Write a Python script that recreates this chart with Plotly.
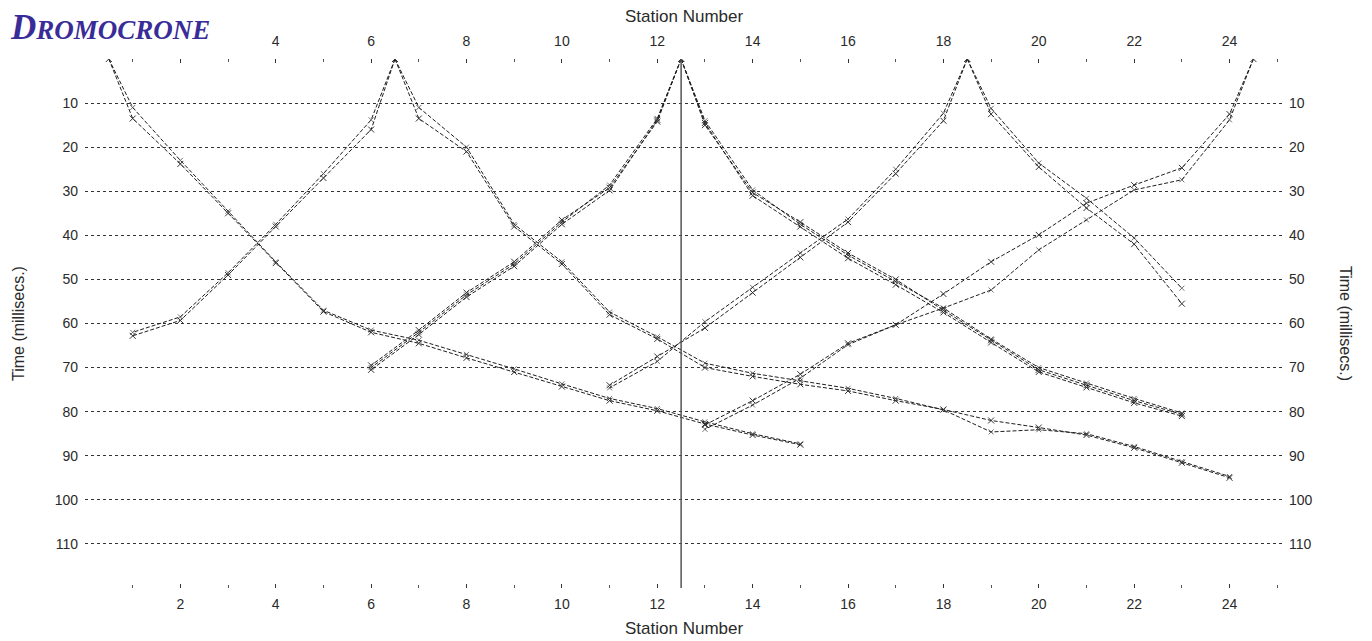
import plotly.graph_objects as go

# ---- data --------------------------------------------------------------
# shot positions (station number)
shots = [0.5, 6.5, 12.5, 18.5, 24.5]

station_ticks = [2, 4, 6, 8, 10, 12, 14, 16, 18, 20, 22, 24]
time_ticks = [10, 20, 30, 40, 50, 60, 70, 80, 90, 100, 110]

# shot 0.5 (right branch)
s1_right_x = [0.5, 1, 2, 3, 4, 5, 6, 7, 8, 9, 10, 11, 12, 13, 14, 15]
s1_right_a = [0, 11, 23, 34.5, 46, 57, 61.5, 63.8, 67, 70.3, 73.7, 77, 79.3, 82.3, 85, 87.3]
s1_right_b = [0, 13.5, 23.8, 35, 46.3, 57.3, 62, 64.5, 67.8, 71, 74.3, 77.5, 79.8, 82.8, 85.3, 87.5]

# shot 6.5
s2_left_x = [6.5, 6, 5, 4, 3, 2, 1]
s2_left_a = [0, 13.8, 26, 37.5, 48.5, 58.5, 62]
s2_left_b = [0, 16, 27, 38, 49, 59.3, 62.8]
s2_right_x = [6.5, 7, 8, 9, 10, 11, 12, 13, 14, 15, 16, 17, 18, 19, 20, 21, 22, 23, 24]
s2_right_a = [0, 11, 20, 37.5, 46, 57.4, 63, 69, 71.3, 73, 74.7, 77, 79.6, 84.6, 84.1, 85, 87.9, 91.3, 94.7]
s2_right_b = [0, 13.5, 21, 38, 46.5, 58, 63.5, 70, 72, 73.8, 75.3, 77.5, 79.5, 82, 83.6, 85.3, 88.2, 91.6, 95]

# shot 12.5 (three overlapping picks)
s3_left_x = [12.5, 12, 11, 10, 9, 8, 7, 6]
s3_left_a = [0, 13.5, 28.6, 37, 46.5, 53.5, 62, 70]
s3_left_b = [0, 14.2, 29.2, 36.5, 46, 53, 61.5, 69.5]
s3_left_c = [0, 13.8, 29.8, 37.5, 47, 54, 62.5, 70.5]
s3_right_x = [12.5, 13, 14, 15, 16, 17, 18, 19, 20, 21, 22, 23]
s3_right_a = [0, 14, 29.7, 37.5, 44.5, 50.5, 56.5, 63.5, 70, 73.5, 77, 80.3]
s3_right_b = [0, 15, 30.3, 37, 44, 50, 57, 63.8, 70.5, 74, 77.5, 80.6]
s3_right_c = [0, 14.5, 31, 38, 45.2, 51.2, 57.5, 64.3, 71, 74.5, 78, 81]

# shot 18.5
s4_left_x = [18.5, 18, 17, 16, 15, 14, 13, 12, 11]
s4_left_a = [0, 12.3, 25, 36.3, 44, 51.8, 59.6, 68.6, 74.6]
s4_left_b = [0, 14, 26, 37, 45, 53, 61, 67.5, 74]
s4_right_x = [18.5, 19, 20, 21, 22, 23]
s4_right_a = [0, 11.2, 23.6, 31.6, 40.6, 52]
s4_right_b = [0, 12.5, 24.5, 33.8, 42, 55.5]

# shot 24.5 (left branch)
s5_left_x = [24.5, 24, 23, 22, 21, 20, 19, 18, 17, 16, 15, 14, 13]
s5_left_a = [0, 13.8, 27.4, 29.7, 36.5, 43.3, 52.4, 56.5, 60.3, 64.8, 72.4, 78.5, 84]
s5_left_b = [0, 12.5, 24.7, 28.6, 32.7, 39.9, 46, 53.3, 60.3, 64.5, 71.5, 77.5, 83]

branches = [
    (s1_right_x, [s1_right_a, s1_right_b]),
    (s2_left_x, [s2_left_a, s2_left_b]),
    (s2_right_x, [s2_right_a, s2_right_b]),
    (s3_left_x, [s3_left_a, s3_left_b, s3_left_c]),
    (s3_right_x, [s3_right_a, s3_right_b, s3_right_c]),
    (s4_left_x, [s4_left_a, s4_left_b]),
    (s4_right_x, [s4_right_a, s4_right_b]),
    (s5_left_x, [s5_left_a, s5_left_b]),
]

# ---- figure --------------------------------------------------------------
font_axis = dict(family='Liberation Sans, Arial, sans-serif', size=14, color='#2a2a2a')
font_title = dict(family='Liberation Sans, Arial, sans-serif', size=17, color='#2a2a2a')
line_col = '#1e1e1e'

fig = go.Figure()

for xs, picks in branches:
    for i, ts in enumerate(picks):
        sizes = [0] + [5] * (len(xs) - 1) if i == 0 else 0
        fig.add_trace(go.Scatter(
            x=xs, y=ts, mode='lines+markers',
            line=dict(color=line_col, width=1, dash='4px,2px'),
            marker=dict(symbol='x-thin', size=sizes,
                        line=dict(width=1, color='#333')),
            showlegend=False, hoverinfo='skip'))

# dummy trace so the top / right axes get drawn
fig.add_trace(go.Scatter(x=[None], y=[None], xaxis='x2', yaxis='y2',
                         showlegend=False, hoverinfo='skip'))

# vertical line at the centre shot
fig.add_shape(type='line', x0=shots[2], x1=shots[2], y0=0, y1=1,
              xref='x', yref='paper', line=dict(color='#555', width=1.5))

x_range = [0, 25.1]
y_range = [120, 0]

xcommon = dict(range=x_range, tickvals=station_ticks, ticks='inside', ticklen=4,
               tickcolor='#333', tickwidth=1, showgrid=False, zeroline=False,
               showline=False, tickfont=font_axis,
               minor=dict(tickmode='linear', tick0=0, dtick=1, ticks='inside',
                          ticklen=3, tickcolor='#555', showgrid=False))
ycommon = dict(range=y_range, tickvals=time_ticks, ticks='', zeroline=False,
               showline=False, tickfont=font_axis)

fig.update_layout(
    width=1372, height=641,
    paper_bgcolor='white', plot_bgcolor='white',
    margin=dict(l=85, r=90, t=59, b=53, autoexpand=False),
    xaxis=dict(**xcommon, ticklabelstandoff=6),
    xaxis2=dict(**xcommon, overlaying='x', side='top', anchor='y2',
                ticklabelstandoff=9),
    yaxis=dict(**ycommon, showgrid=True, gridcolor='#333', gridwidth=1,
               griddash='3px,3px', ticklabelstandoff=6),
    yaxis2=dict(**ycommon, overlaying='y', side='right', showgrid=False,
                ticklabelstandoff=6),
    annotations=[
        dict(text='Station Number', xref='paper', yref='paper', x=0.5, y=1,
             yshift=43, showarrow=False, font=font_title, yanchor='middle'),
        dict(text='Station Number', xref='paper', yref='paper', x=0.5, y=0,
             yshift=-40, showarrow=False, font=font_title, yanchor='middle'),
        dict(text='Time (millisecs.)', xref='paper', yref='paper', x=0, y=0.5,
             xshift=-77, textangle=-90, showarrow=False, font=dict(font_title, size=16)),
        dict(text='Time (millisecs.)', xref='paper', yref='paper', x=1, y=0.5,
             xshift=74, textangle=90, showarrow=False, font=dict(font_title, size=16)),
        dict(text="<b><i><span style='font-size:35px'>D</span>ROMOCRONE</i></b>",
             xref='paper', yref='paper', x=0, y=1, xshift=-77, yshift=32,
             xanchor='left', yanchor='middle', showarrow=False, bgcolor='white',
             font=dict(family='Liberation Serif, Times New Roman, serif', size=27,
                       color='#3a2c98')),
    ],
)

fig.write_html("out.html", config={'displayModeBar': False},
               post_script="document.body.style.margin='0';document.body.style.overflow='hidden';")
